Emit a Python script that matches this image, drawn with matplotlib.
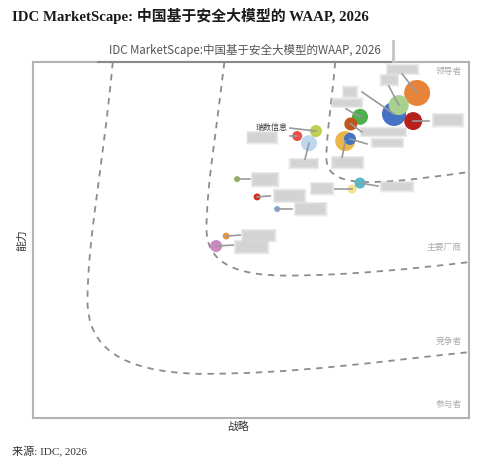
import matplotlib
matplotlib.use("Agg")
import matplotlib.pyplot as plt
from matplotlib.path import Path
from matplotlib.patches import PathPatch, FancyBboxPatch
import matplotlib.lines as mlines

# ---------------- data ----------------
vendors = ["", "", "", "", "", "", "", "", "瑞数信息", "", "", "", "", "", "", "", "", ""]
strategy = [88.1, 82.8, 83.9, 87.2, 75.0, 72.9, 71.6, 72.7, 64.9, 60.6, 63.3,
            73.2, 75.0, 46.8, 51.4, 56.0, 44.3, 42.0]
capability = [91.3, 85.4, 87.9, 83.4, 84.6, 82.6, 77.8, 78.4, 80.6, 79.2, 77.2,
              64.3, 66.0, 67.1, 62.1, 58.7, 51.1, 48.3]
bubble_size = [350, 299, 207, 168, 133, 88, 207, 75, 75, 52, 133,
               42, 63, 19, 25, 19, 25, 75]
# order for drawing: light blue before red / 瑞数
draw_order = [0, 1, 2, 3, 4, 5, 6, 7, 10, 9, 8, 11, 12, 13, 14, 15, 16, 17]

colors = ["#E8833A", "#4472C4", "#A9D18E", "#B7211C", "#4DAF4F", "#C0561A",
          "#EAB54A", "#4472C4", "#BFD04F", "#E8514A", "#BDD7EE",
          "#F6E08D", "#5BB6C9", "#8DB659", "#E0291E", "#7BA7DA", "#E8944A", "#CC89C1"]

# label layout (pixel offsets from bubble, y down): leader end, grey box
leader_off = [(-15, -19), (-32, -22), (-10, -19), (16, 0), (-14, -8), (11, 8),
              (-3, 16), (17, 5), (-26, -3), (-7, 0), (-4, 16),
              (-17, 0), (18, 3), (13, 0), (13, -1), (15, 0), (14, -1), (17, -1)]
box_off = [(-30, -28, 31, 9), (-51, -27, 14, 10), (-18, -30, 17, 10), (20, -7, 30, 12),
           (-28, -18, 30, 8), (10, 4, 45, 8), (-13, 16, 31, 11), (22, 0, 31, 8),
           None, (-50, -4, 30, 11), (-19, 16, 28, 9),
           (-41, -6, 22, 11), (21, -1, 32, 9), (15, -6, 26, 13), (17, -7, 31, 12),
           (18, -6, 31, 12), (16, -6, 33, 11), (19, -5, 33, 12)]

segment_labels = ["领导者", "主要厂商", "竞争者", "参与者"]
segment_label_y = [97.2, 48.0, 21.6, 3.7]

# boundary curves (Bezier control points in data units)
outer_curve = [(18.3, 100), (16.0, 70), (12.5, 50), (12.5, 33),
               (12.5, 20), (20, 13), (38, 12.4),
               (60, 12.3), (80, 16), (100, 18.5)]
middle_curve = [(43.9, 100), (42.0, 80), (39.8, 65), (39.8, 53),
                (39.8, 44), (46, 40), (58, 40),
                (72, 40), (88, 42), (100, 43.8)]
inner_curve = [(69.3, 100), (68.5, 88), (67.3, 80), (67.3, 73),
               (67.3, 68), (71, 66.3), (77, 66.3),
               (85, 66.3), (93, 68), (100, 69.1)]

title = "IDC MarketScape: 中国基于安全大模型的 WAAP, 2026"
inner_title = "IDC MarketScape:中国基于安全大模型的WAAP, 2026"
source = "来源: IDC, 2026"
x_label = "战略"
y_label = "能力"

# ---------------- figure ----------------
W, H = 500, 466
fig = plt.figure(figsize=(W / 100, H / 100), dpi=100)
fig.patch.set_facecolor("white")
ax_l, ax_r, ax_t, ax_b = 33, 469, 62, 418
ax = fig.add_axes([ax_l / W, (H - ax_b) / H, (ax_r - ax_l) / W, (ax_b - ax_t) / H])
ax.set_xlim(0, 100)
ax.set_ylim(0, 100)
ax.set_xticks([])
ax.set_yticks([])
for s in ax.spines.values():
    s.set_color("#b3b3b3")
    s.set_linewidth(1.5)

pxx = 100 / (ax_r - ax_l)
pxy = 100 / (ax_b - ax_t)

cjk = ["Noto Sans CJK SC", "DejaVu Sans"]

# curves
for pts in (outer_curve, middle_curve, inner_curve):
    codes = [Path.MOVETO] + [Path.CURVE4] * (len(pts) - 1)
    patch = PathPatch(Path(pts, codes), facecolor="none", edgecolor="#8c8c8c",
                      lw=1.3, linestyle=(0, (3.5, 3.2)), zorder=1, clip_on=False)
    ax.add_patch(patch)

# label boxes (blurred grey placeholders)
for i in range(len(vendors)):
    b = box_off[i]
    if b is None:
        continue
    x0 = strategy[i] + b[0] * pxx
    y1 = capability[i] - b[1] * pxy
    w = b[2] * pxx
    h = b[3] * pxy
    for grow, a in ((1.5, 0.18), (0.7, 0.3), (-0.2, 0.45), (-1.2, 0.45), (-2.2, 0.35)):
        if w + 2 * grow * pxx <= 0 or h + 2 * grow * pxy <= 0:
            continue
        ax.add_patch(FancyBboxPatch((x0 - grow * pxx, y1 - h - grow * pxy),
                                    w + 2 * grow * pxx, h + 2 * grow * pxy,
                                    boxstyle="square,pad=0", facecolor="#cfcfcf",
                                    edgecolor="none", alpha=a, zorder=2))

# bubbles
for k, i in enumerate(draw_order):
    ax.scatter([strategy[i]], [capability[i]], s=bubble_size[i], color=colors[i],
               edgecolors="none", zorder=3 + k * 0.01, clip_on=False)

# leader lines
for i in range(len(vendors)):
    dx, dy = leader_off[i]
    ax.add_line(mlines.Line2D([strategy[i], strategy[i] + dx * pxx],
                              [capability[i], capability[i] - dy * pxy],
                              color="#9a9a9a", lw=1.2, zorder=4))
    if vendors[i]:
        ax.text(strategy[i] + (dx - 2) * pxx, capability[i] - (dy - 0.5) * pxy, vendors[i],
                ha="right", va="center", fontsize=5.8, family=cjk, color="#3a3a3a", zorder=5)

# segment labels
for lab, yy in zip(segment_labels, segment_label_y):
    ax.text(98.3, yy, lab, ha="right", va="center", fontsize=6.3, family=cjk,
            color="#ababab")

# inner title decorations
fig.add_artist(mlines.Line2D([98 / W, 393 / W], [(H - 62) / H, (H - 62) / H],
                             color="#8a8a8a", lw=1.5))
fig.add_artist(mlines.Line2D([393 / W, 393 / W], [(H - 41) / H, (H - 61) / H],
                             color="#c4c4c4", lw=2.0))
fig.text(245 / W, (H - 50) / H, inner_title, ha="center", va="center",
         fontsize=8.3, family=cjk, color="#555555")

# axis labels
fig.text(22 / W, (H - 240) / H, y_label, rotation=90, ha="center", va="center",
         fontsize=7.8, family=cjk, color="#333333")
fig.text(238 / W, (H - 427) / H, x_label, ha="center", va="center",
         fontsize=7.8, family=cjk, color="#333333")

# title and source
fig.text(12 / W, (H - 16) / H, title, ha="left", va="center", fontsize=10.7,
         fontweight="bold", family=["Liberation Serif", "Noto Sans CJK SC"], color="#1a1a1a")
fig.text(12 / W, (H - 452) / H, source, ha="left", va="center", fontsize=8,
         family=["Liberation Serif", "Noto Sans CJK SC"], color="#333333")

fig.savefig("out.png", dpi=100, facecolor="white")
